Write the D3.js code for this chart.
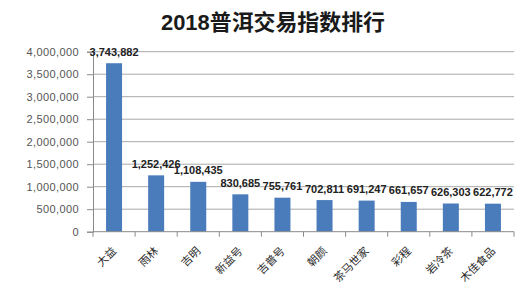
<!DOCTYPE html>
<html>
<head>
<meta charset="utf-8">
<script src="https://cdn.jsdelivr.net/npm/d3@7"></script>
<style>
  html, body { margin: 0; padding: 0; background: #fff; }
  svg { display: block; }
</style>
</head>
<body>
<svg id="chart" width="529" height="298"></svg>
<script>
// Tea brands and their 2018 trading index
const titleText = "2018普洱交易指数排行";
const brands = ["大益", "雨林", "吉明", "新益号", "吉普号", "朝颜", "茶马世家", "彩程", "岩冷茶", "木佳食品"];
const indexValues = [3743882, 1252426, 1108435, 830685, 755761, 702811, 691247, 661657, 626303, 622772];
const yTicks = [0, 500000, 1000000, 1500000, 2000000, 2500000, 3000000, 3500000, 4000000];

const svg = d3.select("#chart");
const plot = { left: 93, right: 514, top: 51.7, bottom: 231.7 };

const x = d3.scaleBand()
  .domain(brands)
  .range([plot.left, plot.right])
  .paddingInner(0.62)
  .paddingOuter(0.31);

const y = d3.scaleLinear()
  .domain([0, 4000000])
  .range([plot.bottom, plot.top]);

const fmt = d3.format(",");

// Title
svg.append("text")
  .attr("x", 161)
  .attr("y", 30)
  .attr("font-family", "Liberation Sans, 'Noto Sans CJK SC', sans-serif")
  .attr("font-size", 22)
  .attr("font-weight", "bold")
  .attr("fill", "#1a1a1a")
  .attr("textLength", 224)
  .attr("lengthAdjust", "spacingAndGlyphs")
  .text(titleText);

// Horizontal gridlines
svg.append("g")
  .selectAll("line")
  .data(yTicks.filter(d => d > 0))
  .join("line")
  .attr("x1", plot.left)
  .attr("x2", plot.right)
  .attr("y1", d => y(d))
  .attr("y2", d => y(d))
  .attr("stroke", "#a8a8a8")
  .attr("stroke-width", 1);

// Y axis
const yAxis = svg.append("g")
  .attr("transform", `translate(${plot.left},0)`)
  .call(d3.axisLeft(y).tickValues(yTicks).tickFormat(fmt).tickSize(6).tickPadding(8));
yAxis.select(".domain").attr("stroke", "#8a8a8a");
yAxis.selectAll(".tick line").attr("stroke", "#8a8a8a");
yAxis.selectAll(".tick text")
  .attr("font-family", "Liberation Sans, Arial, sans-serif")
  .attr("font-size", 11)
  .attr("letter-spacing", 0.4)
  .attr("fill", "#555");

// Bars
svg.append("g")
  .selectAll("rect")
  .data(indexValues)
  .join("rect")
  .attr("x", (d, i) => x(brands[i]))
  .attr("y", d => y(d))
  .attr("width", x.bandwidth())
  .attr("height", d => plot.bottom - y(d))
  .attr("fill", "#4a7cbc");

// X axis line with category boundary ticks
const step = x.step();
const boundaries = d3.range(brands.length + 1).map(i => plot.left + i * step);
svg.append("line")
  .attr("x1", plot.left).attr("x2", plot.right)
  .attr("y1", plot.bottom).attr("y2", plot.bottom)
  .attr("stroke", "#8a8a8a");
svg.append("g")
  .selectAll("line")
  .data(boundaries)
  .join("line")
  .attr("x1", d => d).attr("x2", d => d)
  .attr("y1", plot.bottom).attr("y2", plot.bottom + 5)
  .attr("stroke", "#8a8a8a");

// Category labels, rotated
svg.append("g")
  .selectAll("text")
  .data(brands)
  .join("text")
  .attr("transform", d => `translate(${x(d) + x.bandwidth() / 2 + 3},${plot.bottom + 20}) rotate(-45)`)
  .attr("text-anchor", "end")
  .attr("font-family", "Noto Sans CJK SC, sans-serif")
  .attr("font-size", 11)
  .attr("fill", "#2a2a2a")
  .text(d => d);

// Value labels above bars
svg.append("g")
  .selectAll("text")
  .data(indexValues)
  .join("text")
  .attr("x", (d, i) => x(brands[i]) + x.bandwidth() / 2)
  .attr("y", d => y(d) - 7.5)
  .attr("text-anchor", "middle")
  .attr("font-family", "Liberation Sans, Arial, sans-serif")
  .attr("font-size", 11)
  .attr("font-weight", "bold")
  .attr("fill", "#222")
  .text(d => fmt(d));
</script>
</body>
</html>
